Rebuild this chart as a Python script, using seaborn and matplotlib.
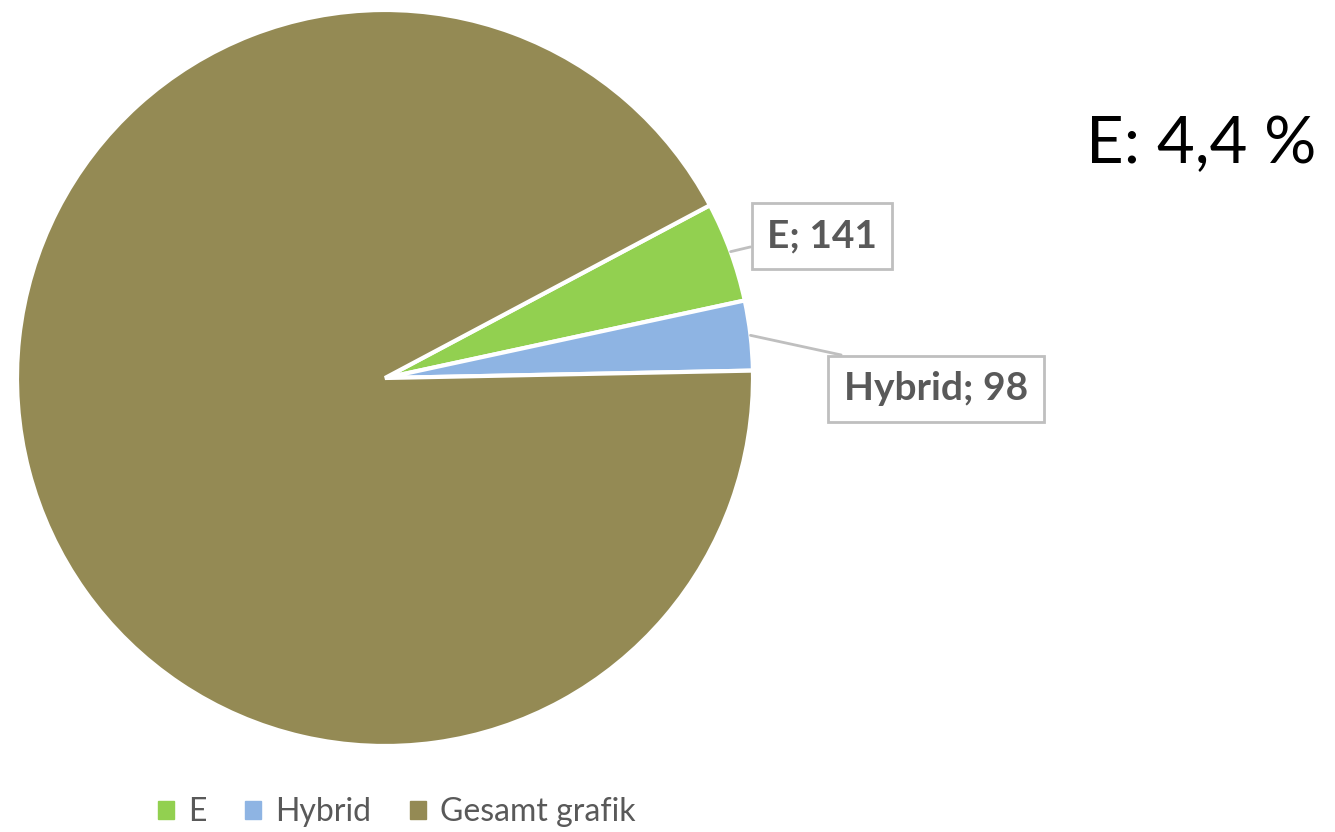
import numpy as np
import matplotlib
matplotlib.use("Agg")
import matplotlib.pyplot as plt
import seaborn as sns

categories = ["E", "Hybrid", "Gesamt grafik"]
values = [141, 98, 2966]
colors = ["#92D050", "#8EB4E3", "#948A54"]

sns.set_theme(style="white")
plt.rcParams["font.family"] = ["Lato", "DejaVu Sans"]

W, H = 1335, 832
fig = plt.figure(figsize=(W / 100, H / 100), dpi=100)
ax = fig.add_axes([0, 0, 1, 1])

cx, cy, r = 385, H - 378, 368
start = 28
wedges, _ = ax.pie(values, colors=colors, startangle=start, counterclock=False,
                   center=(cx, cy), radius=r, frame=True,
                   wedgeprops=dict(edgecolor="white", linewidth=3))
ax.set_xlim(0, W)
ax.set_ylim(0, H)
ax.set_aspect("equal")
ax.axis("off")

total = sum(values)
label_pos = {"E": (822, H - 236, (0.0, 0.3)), "Hybrid": (936, H - 389, (0.4, 1.0))}
for w, cat, val in zip(wedges, categories, values):
    if cat not in label_pos:
        continue
    mid = np.deg2rad((w.theta1 + w.theta2) / 2)
    px, py = cx + r * np.cos(mid), cy + r * np.sin(mid)
    tx, ty, rel = label_pos[cat]
    ax.annotate(f"{cat}; {val}", xy=(px, py), xytext=(tx, ty),
                ha="center", va="center", fontsize=28, fontweight="bold",
                color="#595959",
                bbox=dict(boxstyle="square,pad=0.4", fc="white", ec="#BFBFBF", lw=2),
                arrowprops=dict(arrowstyle="-", color="#BFBFBF", lw=2,
                                relpos=rel, shrinkA=0, shrinkB=0))

pct = values[0] / total * 100
fig.text(1201 / W, 1 - 145 / H, f"E: {pct:.1f} %".replace(".", ","),
         ha="center", va="center", fontsize=47, color="black")

handles = [plt.Rectangle((0, 0), 1, 1, color=c) for c in colors]
fig.legend(handles, categories, loc="center", bbox_to_anchor=(397 / W, 1 - 812 / H),
           ncol=3, frameon=False, fontsize=23, handlelength=0.5, handleheight=0.5,
           handletextpad=0.45, columnspacing=1.2, labelcolor="#595959")

fig.savefig("out.png", dpi=100, facecolor="white")
